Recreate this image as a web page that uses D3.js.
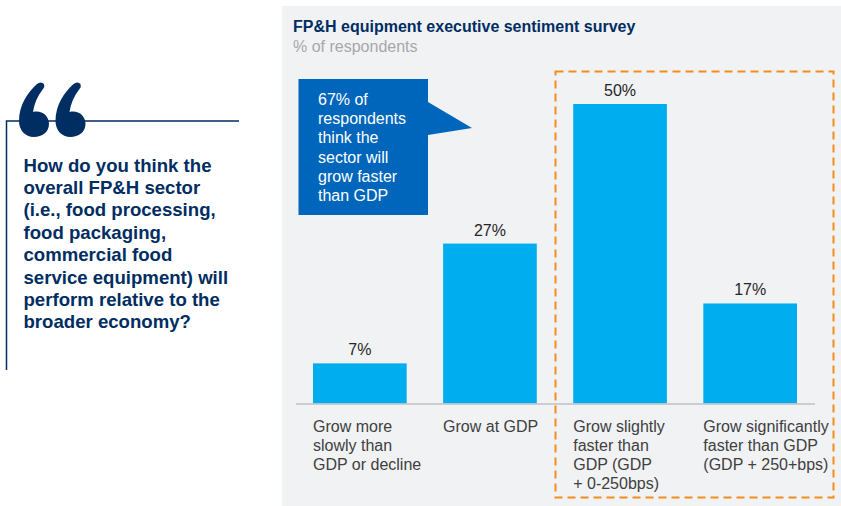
<!DOCTYPE html>
<html>

<head>
  <title>FP&amp;H equipment executive sentiment survey</title>
  <script src="https://d3js.org/d3.v7.min.js"></script>
  <style>
    html, body { margin: 0; padding: 0; background: #fff; }
    svg { display: block; font-family: "Liberation Sans", Arial, sans-serif; }
  </style>
</head>

<body>
  <svg id="chart" width="841" height="506"></svg>

  <script>
    // data
    const categories = ["slower", "atGdp", "slightly", "significantly"];
    const values = [6.7, 26.7, 50, 16.7];
    const categoryLabels = [
      ["Grow more", "slowly than", "GDP or decline"],
      ["Grow at GDP"],
      ["Grow slightly", "faster than", "GDP (GDP", "+ 0-250bps)"],
      ["Grow significantly", "faster than GDP", "(GDP + 250+bps)"]
    ];
    const questionLines = [
      "How do you think the",
      "overall FP&H sector",
      "(i.e., food processing,",
      "food packaging,",
      "commercial food",
      "service equipment) will",
      "perform relative to the",
      "broader economy?"
    ];
    const calloutLines = ["67% of", "respondents", "think the", "sector will", "grow faster", "than GDP"];
    const chartTitle = "FP&H equipment executive sentiment survey";
    const chartSubtitle = "% of respondents";

    const navy = "#002D62";
    const svg = d3.select("svg#chart");

    // left quote panel
    svg.append("path")
      .attr("d", "M6.5,370V121H239")
      .attr("fill", "none")
      .attr("stroke", navy)
      .attr("stroke-width", 1.5);

    const quoteMark = "M37,84Q41,81 44,84Q45,87 43,89Q35,99 33,112C42,110 49,116 49,124C49,132 42,137 34,137C25,137 19,130 19,121C19,105 28,92 37,84Z";
    svg.append("path").attr("d", quoteMark).attr("fill", navy);
    svg.append("path").attr("d", quoteMark).attr("fill", navy).attr("transform", "translate(36.5,0)");

    svg.append("g").selectAll("text")
      .data(questionLines)
      .join("text")
      .attr("x", 23.5)
      .attr("y", (d, i) => 171.5 + i * 22.4)
      .attr("fill", navy)
      .style("font-size", "18.6px")
      .style("font-weight", "bold")
      .text(d => d);

    // chart panel
    svg.append("rect")
      .attr("x", 282).attr("y", 6)
      .attr("width", 559).attr("height", 500)
      .attr("fill", "#F1F2F4");

    svg.append("text")
      .attr("x", 293).attr("y", 32)
      .attr("fill", navy)
      .style("font-size", "16px")
      .style("font-weight", "bold")
      .text(chartTitle);

    svg.append("text")
      .attr("x", 293).attr("y", 52)
      .attr("fill", "#A6A8AB")
      .style("font-size", "16px")
      .text(chartSubtitle);

    // scales
    const xScale = d3.scaleBand()
      .domain(categories)
      .range([313, 797])
      .paddingInner(0.28);
    const yScale = d3.scaleLinear()
      .domain([0, 50])
      .range([403.5, 104]);

    // highlight box goes under the bars
    svg.append("rect")
      .attr("x", 555.5).attr("y", 71.5)
      .attr("width", 278).attr("height", 426)
      .attr("fill", "none")
      .attr("stroke", "#F68B1E")
      .attr("stroke-width", 2)
      .attr("stroke-dasharray", "8 5");

    svg.append("g").selectAll("rect")
      .data(values)
      .join("rect")
      .attr("x", (d, i) => xScale(categories[i]))
      .attr("y", d => yScale(d))
      .attr("width", xScale.bandwidth())
      .attr("height", d => yScale(0) - yScale(d))
      .attr("fill", "#00AEEF");

    // baseline
    svg.append("line")
      .attr("x1", 296).attr("x2", 815)
      .attr("y1", 404).attr("y2", 404)
      .attr("stroke", "#BFC1C4")
      .attr("stroke-width", 1.5);

    // value labels
    svg.append("g").selectAll("text")
      .data(values)
      .join("text")
      .attr("x", (d, i) => xScale(categories[i]) + xScale.bandwidth() / 2)
      .attr("y", d => yScale(d) - 8)
      .attr("text-anchor", "middle")
      .attr("fill", "#262626")
      .style("font-size", "16px")
      .text(d => Math.round(d) + "%");

    // category labels
    categoryLabels.forEach((lines, i) => {
      svg.append("g").selectAll("text")
        .data(lines)
        .join("text")
        .attr("x", xScale(categories[i]))
        .attr("y", (d, j) => 431.5 + j * 19.2)
        .attr("fill", "#404040")
        .style("font-size", "16px")
        .text(d => d);
    });

    // callout
    svg.append("path")
      .attr("d", "M298.5,79H428V102L472,128L428,135V215H298.5Z")
      .attr("fill", "#0066BB");

    svg.append("g").selectAll("text")
      .data(calloutLines)
      .join("text")
      .attr("x", 318)
      .attr("y", (d, i) => 105 + i * 19.2)
      .attr("fill", "#fff")
      .style("font-size", "16px")
      .text(d => d);
  </script>
</body>

</html>
